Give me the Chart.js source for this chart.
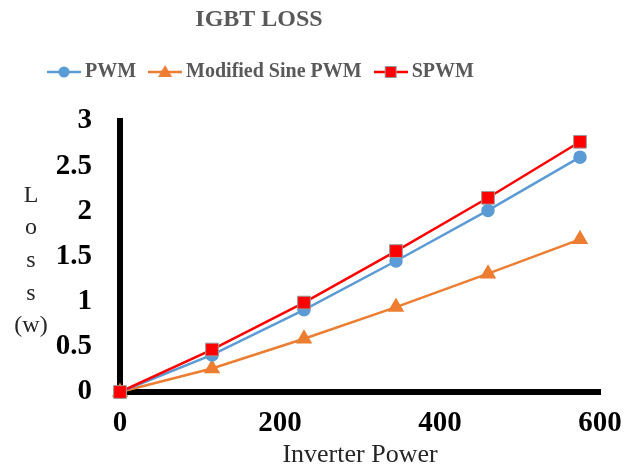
<!DOCTYPE html>
<html>
<head>
<meta charset="utf-8">
<script src="https://cdn.jsdelivr.net/npm/chart.js@4.4.1/dist/chart.umd.min.js"></script>
<style>
  html, body { margin: 0; padding: 0; background: #fff; }
  #wrap { width: 643px; height: 472px; }
</style>
</head>
<body>
<div id="wrap"><canvas id="c" width="643" height="472"></canvas></div>
<script>
const chartTitle = "IGBT LOSS";
const xAxisTitle = "Inverter Power";
const yAxisTitleLines = ["L", "o", "s", "s", "(w)"];
const inverterPower = [0, 115, 230, 345, 460, 575];
const seriesNames = ["PWM", "Modified Sine PWM", "SPWM"];
const pwmLoss = [0, 0.41, 0.91, 1.45, 2.01, 2.60];
const modSineLoss = [0, 0.26, 0.59, 0.94, 1.31, 1.69];
const spwmLoss = [0, 0.47, 0.99, 1.56, 2.15, 2.77];
const xTicks = [0, 200, 400, 600];
const yTicks = [0, 0.5, 1, 1.5, 2, 2.5, 3];

const SERIF = "'Liberation Serif', 'Times New Roman', serif";
const BLUE = "#5B9BD5", ORANGE = "#ED7D31", RED = "#FF0000";

function pts(vals) { return vals.map((v, i) => ({ x: inverterPower[i], y: v })); }

function legendImage(color, style) {
  const cv = document.createElement('canvas');
  cv.width = 34; cv.height = 18;
  const c = cv.getContext('2d');
  c.strokeStyle = color; c.lineWidth = 2.5;
  c.beginPath(); c.moveTo(0, 9); c.lineTo(34, 9); c.stroke();
  c.fillStyle = color;
  if (style === 'circle') {
    c.beginPath(); c.arc(17, 9, 5.5, 0, Math.PI * 2); c.fill();
  } else if (style === 'triangle') {
    c.beginPath(); c.moveTo(17, 2); c.lineTo(24, 14); c.lineTo(10, 14); c.closePath(); c.fill();
  } else {
    c.fillRect(11, 3, 12, 12);
    c.strokeStyle = '#9a9a9a'; c.lineWidth = 1; c.strokeRect(11.5, 3.5, 11, 11);
  }
  return cv;
}
const legendImgs = [legendImage(BLUE, 'circle'), legendImage(ORANGE, 'triangle'), legendImage(RED, 'rect')];

const yTitlePlugin = {
  id: 'yTitleStack',
  afterDraw(chart) {
    const ctx = chart.ctx;
    ctx.save();
    ctx.font = "24px " + SERIF;
    ctx.fillStyle = "#262626";
    ctx.textAlign = 'center';
    ctx.textBaseline = 'alphabetic';
    const baselines = [202, 234, 267, 300, 332];
    yAxisTitleLines.forEach((t, i) => ctx.fillText(t, 31, baselines[i]));
    ctx.restore();
  }
};

const placePlugin = {
  id: 'placeBoxes',
  afterLayout(chart) {
    const tb = chart.titleBlock;
    if (tb) { tb.left = 259 - 200; tb.right = 259 + 200; tb.top = 20 - 14.4; tb.bottom = tb.top + 28.8; }
    const lg = chart.legend;
    if (lg) { const h = lg.bottom - lg.top; lg.left = 35; lg.top = 72 - 18 - 10; lg.bottom = lg.top + h; }
  }
};

new Chart(document.getElementById('c'), {
  type: 'line',
  data: {
    datasets: [
      { label: seriesNames[0], data: pts(pwmLoss), borderColor: BLUE, backgroundColor: BLUE,
        pointStyle: 'circle', pointRadius: 5.5, pointBorderColor: BLUE, pointBackgroundColor: BLUE,
        borderWidth: 2.5, order: 1, clip: false },
      { label: seriesNames[1], data: pts(modSineLoss), borderColor: ORANGE, backgroundColor: ORANGE,
        pointStyle: 'triangle', pointRadius: 7, pointBorderColor: ORANGE, pointBackgroundColor: ORANGE,
        borderWidth: 2.5, order: 2, clip: false },
      { label: seriesNames[2], data: pts(spwmLoss), borderColor: RED, backgroundColor: RED,
        pointStyle: 'rect', pointRadius: 9, pointBorderColor: '#9a9a9a', pointBorderWidth: 1,
        pointBackgroundColor: RED, borderWidth: 2.5, order: 0, clip: false }
    ]
  },
  options: {
    responsive: false,
    animation: false,
    layout: { padding: { top: 44.2, right: 43, bottom: 0, left: 0 } },
    plugins: {
      title: { display: true, text: chartTitle, color: '#595959',
        font: { family: SERIF, size: 24, weight: 'bold', lineHeight: 1.2 }, padding: 0 },
      legend: {
        display: true, position: 'top', align: 'start',
        labels: {
          usePointStyle: true, pointStyleWidth: 22, padding: 18, color: '#595959',
          font: { family: SERIF, size: 20, weight: 'bold' },
          generateLabels(chart) {
            return chart.data.datasets.map((ds, i) => ({
              text: ds.label, datasetIndex: i, pointStyle: legendImgs[i],
              fillStyle: ds.borderColor, strokeStyle: ds.borderColor, lineWidth: 0,
              fontColor: '#595959', hidden: !chart.isDatasetVisible(i)
            }));
          }
        }
      },
      tooltip: { enabled: false }
    },
    scales: {
      x: {
        type: 'linear', min: 0, max: 600,
        afterFit(s) { s.height = 80; },
        afterBuildTicks(s) { s.ticks = xTicks.map(v => ({ value: v })); },
        grid: { display: false, drawTicks: false },
        border: { display: true, color: '#000', width: 6 },
        ticks: { color: '#000', padding: 14, font: { family: SERIF, size: 29, weight: 'bold' },
          callback: (v) => String(v) },
        title: { display: true, text: xAxisTitle, color: '#262626',
          font: { family: SERIF, size: 26 }, padding: { top: 0, bottom: 1.4 } }
      },
      y: {
        type: 'linear', min: 0, max: 3,
        afterFit(s) { s.width = 120; },
        afterBuildTicks(s) { s.ticks = yTicks.map(v => ({ value: v })); },
        grid: { display: false, drawTicks: false },
        border: { display: true, color: '#000', width: 6 },
        ticks: { color: '#000', padding: 28, font: { family: SERIF, size: 29, weight: 'bold' },
          callback: (v) => String(v) }
      }
    }
  },
  plugins: [placePlugin, yTitlePlugin]
});
</script>
</body>
</html>
